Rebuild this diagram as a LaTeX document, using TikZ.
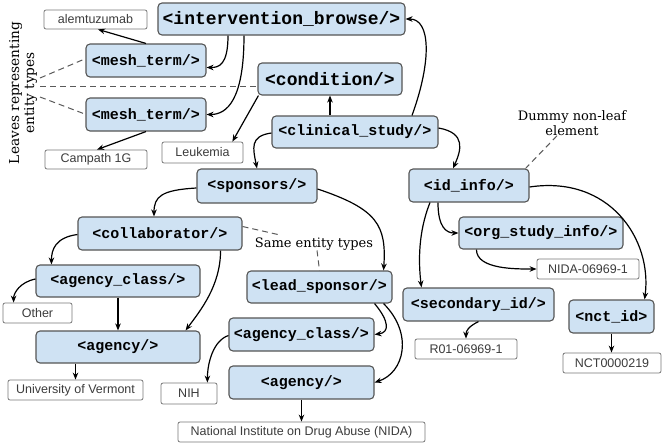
\documentclass[tikz,border=0pt]{standalone}
\usepackage{fontspec}
\setmainfont{DejaVu Serif}
\newfontfamily\monob{Liberation Mono}
\newfontfamily\leaffont{Liberation Sans}
\usetikzlibrary{arrows.meta}
\definecolor{tagfill}{RGB}{207,226,243}
\definecolor{tagborder}{RGB}{85,85,85}
\definecolor{leafborder}{RGB}{120,120,120}
\definecolor{leaftext}{RGB}{60,60,60}
\definecolor{dashgray}{RGB}{90,90,90}
\tikzset{
 tagbase/.style={draw=tagborder, fill=tagfill, rounded corners=4pt, line width=1.1pt, inner sep=0pt, text=black},
 tag/.style={tagbase, font=\monob\bfseries\fontsize{15}{18}\selectfont},
 bigtag/.style={tagbase, font=\monob\bfseries\fontsize{18}{21}\selectfont},
 leaf/.style={draw=leafborder, fill=white, rounded corners=2pt, line width=0.8pt, inner sep=0pt, text=leaftext, font=\leaffont\fontsize{12.5}{14}\selectfont},
 sz/.style 2 args={minimum width=#1pt, minimum height=#2pt},
 arr/.style={draw=black, line width=1.2pt, -{Stealth[length=7pt,width=5.5pt]}},
 dline/.style={draw=dashgray, line width=1pt, dash pattern=on 6pt off 4pt},
 note/.style={font=\fontsize{13}{15}\selectfont, inner sep=0pt, align=center},
}
\begin{document}
\begin{tikzpicture}[x=1pt,y=-1pt]
\useasboundingbox (0,0) rectangle (662,445);

% annotations
\node[note, rotate=90, font=\fontsize{13.7}{15}\selectfont] (leaves) at (23,93) {Leaves representing\\entity types};
\node[note] (same) at (314,244) {Same entity types};
\node[note] (dummy) at (572,123) {Dummy non-leaf\\element};

% tag nodes
\node[bigtag, sz={247}{32}] (ib) at (281.5,19) {<intervention\_browse/>};
\node[tag, sz={120}{33}] (mt1) at (146,60.5) {<mesh\_term/>};
\node[tag, sz={120}{33}] (mt2) at (146,114.5) {<mesh\_term/>};
\node[bigtag, sz={144}{32}] (cond) at (330,79) {<condition/>};
\node[tag, sz={166}{32}] (cs) at (355,132) {<clinical\_study/>};
\node[tag, sz={120}{34}] (spons) at (257,186) {<sponsors/>};
\node[tag, sz={164}{33}] (collab) at (160,233.5) {<collaborator/>};
\node[tag, sz={164}{32}] (acl) at (118,281) {<agency\_class/>};
\node[tag, sz={164}{32}] (agl) at (118,347) {<agency/>};
\node[tag, sz={145}{32}] (lead) at (319.5,287) {<lead\_sponsor/>};
\node[tag, sz={145}{33}] (acr) at (301.5,334.5) {<agency\_class/>};
\node[tag, sz={145}{33}] (agr) at (301.5,382.5) {<agency/>};
\node[tag, sz={120}{33}] (idinfo) at (469,185.5) {<id\_info/>};
\node[tag, sz={164}{32}] (org) at (541,233) {<org\_study\_info/>};
\node[tag, sz={151}{33}] (sec) at (478.5,304.5) {<secondary\_id/>};
\node[tag, sz={85}{33}] (nct) at (611.5,316.5) {<nct\_id>};

% leaf nodes
\node[leaf, sz={103}{19}] (alem) at (95.5,19.5) {alemtuzumab};
\node[leaf, sz={102}{19}] (camp) at (96,159.5) {Campath 1G};
\node[leaf, sz={81}{21}] (leuk) at (202.5,152.5) {Leukemia};
\node[leaf, sz={69}{20}] (other) at (37.5,313) {Other};
\node[leaf, sz={135}{20}] (uvm) at (75.5,390) {University of Vermont};
\node[leaf, sz={56}{21}] (nih) at (189,393.5) {NIH};
\node[leaf, sz={247}{20}] (natl) at (301.5,432) {National Institute on Drug Abuse (NIDA)};
\node[leaf, sz={102}{20}] (nidaid) at (588,269) {NIDA-06969-1};
\node[leaf, sz={102}{20}] (r01) at (466,349) {R01-06969-1};
\node[leaf, sz={98}{20}] (nctv) at (612,363) {NCT0000219};

% dashed annotation lines
\coordinate (lv1) at (40,78);
\coordinate (lv2) at (40,86);
\coordinate (lv3) at (40,97);
\draw[dline] (lv1) -- ([xshift=-2pt,yshift=1pt]mt1.west);
\draw[dline] (lv2) -- ([yshift=-7pt]cond.west);
\draw[dline] (lv3) -- ([xshift=-2pt,yshift=1pt]mt2.west);
\draw[dline] ([yshift=7pt]collab.east) -- ([xshift=-36pt,yshift=3pt]same.north);
\draw[dline] ([xshift=3pt]same.south) -- (lead.north);
\draw[dline] ([xshift=-15pt]dummy.south) -- ([xshift=-4pt]idinfo.north east);

% arrows
\draw[arr] ([xshift=-53.5pt]ib.south) .. controls +(0,30) and +(12,0) .. ([yshift=-7pt]mt1.east);
\draw[arr] ([xshift=-37.5pt]ib.south) .. controls +(0,65) and +(20,0) .. (mt2.east);
\draw[arr] (mt1.north) -- ([xshift=2.5pt]alem.south);
\draw[arr] (mt2.south) -- ([xshift=1pt]camp.north);
\draw[arr] ([xshift=1pt]cond.south west) -- ([xshift=-11pt]leuk.north east);
\draw[arr] (cond.south |- cs.north) -- (cond.south);
\draw[arr] ([xshift=57pt]cs.north) .. controls +(20,-55) and +(25,0) .. (ib.east);
\draw[arr] ([yshift=-1pt]cs.west) .. controls +(-22,3) and +(-4,-20) .. (spons.north);
\draw[arr] ([yshift=4pt]cs.east) .. controls +(28,5) and +(8,-18) .. ([xshift=-16pt]idinfo.north);
\draw[arr] ([yshift=-2pt]spons.west) .. controls +(-35,2) and +(0,-20) .. ([xshift=-6pt]collab.north);
\draw[arr] ([yshift=-3pt]spons.east) .. controls +(60,20) and +(3,-45) .. ([xshift=-9pt]lead.north east);
\draw[arr] ([yshift=-1pt]collab.west) .. controls +(-22,3) and +(0,-15) .. ([xshift=16pt]acl.north west);
\draw[arr] ([xshift=-22pt]collab.south east) .. controls +(0,35) and +(15,-20) .. ([xshift=-15pt]agl.north east);
\draw[arr] ([yshift=2pt]acl.west) .. controls +(-15,3) and +(0,-10) .. ([xshift=11pt]other.north west);
\draw[arr] (acl.south) -- (agl.north);
\draw[arr] (uvm.north |- agl.south) -- (uvm.north);
\draw[arr] ([xshift=-18pt]lead.south east) .. controls +(15,18) and +(15,-2) .. (acr.east);
\draw[arr] ([xshift=-9pt]lead.south east) .. controls +(30,30) and +(30,-10) .. (agr.east);
\draw[arr] (agr.south) -- (agr.south |- natl.north);
\draw[arr] ([yshift=-1pt]acr.west) .. controls +(-15,5) and +(0,-20) .. ([xshift=-10pt]nih.north east);
\draw[arr] ([xshift=-31pt]idinfo.south) .. controls +(0,25) and +(-12,0) .. (org.west);
\draw[arr] ([xshift=-39pt]idinfo.south) .. controls +(-12,30) and +(-3,-25) .. ([xshift=19pt]sec.north west);
\draw[arr] ([yshift=-1.5pt]idinfo.east) .. controls +(80,-12) and +(8,-60) .. ([xshift=-10pt]nct.north east);
\draw[arr] ([xshift=18pt]org.south west) .. controls +(0,20) and +(-20,0) .. (nidaid.west);
\draw[arr] (sec.south) .. controls +(-10,5) and +(0,-8) .. (r01.north);
\draw[arr] (nct.south) -- (nct.south |- nctv.north);
\end{tikzpicture}
\end{document}
